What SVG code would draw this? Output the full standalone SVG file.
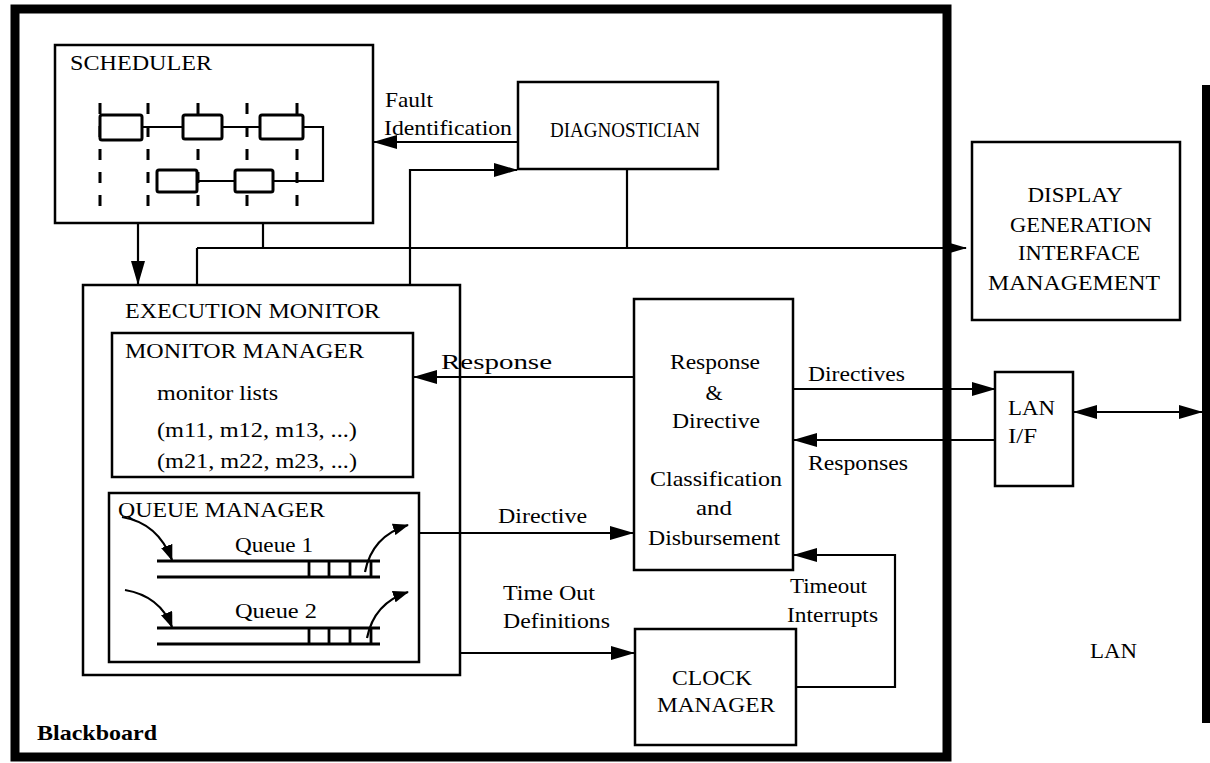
<svg xmlns="http://www.w3.org/2000/svg" width="1210" height="763" viewBox="0 0 1210 763">
<style>
text{font-family:'Liberation Serif','Times New Roman','DejaVu Serif',serif;font-size:22px;fill:#000}
.sm{font-size:21px}
.box{fill:#fff;stroke:#000;stroke-width:2.5}
.ln{fill:none;stroke:#000;stroke-width:2.2}
.q{fill:none;stroke:#000;stroke-width:2.8}
.mid{text-anchor:middle}
</style>
<defs>
<marker id="ah" markerUnits="userSpaceOnUse" markerWidth="24" markerHeight="14" refX="23" refY="7" orient="auto-start-reverse">
<path d="M0,0 L24,7 L0,14 z" fill="#000"/>
</marker>
<marker id="ahs" markerUnits="userSpaceOnUse" markerWidth="16" markerHeight="12" refX="15" refY="6" orient="auto">
<path d="M0,0 L16,6 L0,12 z" fill="#000"/>
</marker>
</defs>
<rect width="1210" height="763" fill="#fff"/>

<g id="blackboard">
<rect x="15" y="9" width="932" height="748" fill="none" stroke="#000" stroke-width="9"/>
<text x="37" y="740" font-weight="bold" textLength="120" lengthAdjust="spacingAndGlyphs">Blackboard</text>
</g>

<g id="lan-bus">
<rect x="1202" y="85" width="8" height="638" fill="#000"/>
<text x="1090" y="658" textLength="47" lengthAdjust="spacingAndGlyphs">LAN</text>
</g>

<g id="scheduler">
<rect class="box" x="55" y="45" width="318" height="178" stroke-width="3"/>
<text x="70" y="70" textLength="142" lengthAdjust="spacingAndGlyphs">SCHEDULER</text>
<g stroke="#000" stroke-width="3" stroke-dasharray="11 12" fill="none">
<line x1="100" y1="103" x2="100" y2="209"/>
<line x1="148" y1="103" x2="148" y2="209"/>
<line x1="198" y1="103" x2="198" y2="209"/>
<line x1="247" y1="103" x2="247" y2="209"/>
<line x1="297" y1="103" x2="297" y2="209"/>
</g>
<g fill="#fff" stroke="#000" stroke-width="3">
<rect x="100" y="115" width="42" height="25" rx="2"/>
<rect x="183" y="115" width="39" height="24" rx="2"/>
<rect x="260" y="115" width="43" height="24" rx="2"/>
<rect x="157" y="170" width="40" height="22" rx="2"/>
<rect x="235" y="170" width="38" height="22" rx="2"/>
</g>
<path class="ln" stroke-width="2.6" d="M142,127 H183 M222,127 H260 M303,127 H323 V181 H273 M197,181 H235"/>
</g>

<g id="diagnostician">
<rect class="box" x="518" y="82" width="200" height="87"/>
<text x="550" y="137" textLength="150" lengthAdjust="spacingAndGlyphs">DIAGNOSTICIAN</text>
</g>

<g id="display">
<rect class="box" x="972" y="142" width="208" height="178"/>
<text x="1075" y="202" class="mid" textLength="95" lengthAdjust="spacingAndGlyphs">DISPLAY</text>
<text x="1081" y="232" class="mid" textLength="142" lengthAdjust="spacingAndGlyphs">GENERATION</text>
<text x="1079" y="260" class="mid" textLength="122" lengthAdjust="spacingAndGlyphs">INTERFACE</text>
<text x="1074" y="290" class="mid" textLength="172" lengthAdjust="spacingAndGlyphs">MANAGEMENT</text>
</g>

<g id="execution-monitor">
<rect class="box" x="83" y="285" width="377" height="390"/>
<text x="125" y="318" textLength="255" lengthAdjust="spacingAndGlyphs">EXECUTION MONITOR</text>
</g>

<g id="monitor-manager">
<rect class="box" x="112" y="333" width="301" height="144" stroke-width="3"/>
<text x="125" y="358" textLength="239" lengthAdjust="spacingAndGlyphs">MONITOR MANAGER</text>
<text x="157" y="400" textLength="121" lengthAdjust="spacingAndGlyphs">monitor lists</text>
<text x="157" y="437" textLength="200" lengthAdjust="spacingAndGlyphs">(m11, m12, m13, ...)</text>
<text x="157" y="468" textLength="200" lengthAdjust="spacingAndGlyphs">(m21, m22, m23, ...)</text>
</g>

<g id="queue-manager">
<rect class="box" x="109" y="493" width="310" height="169" stroke-width="3"/>
<text x="118" y="517" textLength="207" lengthAdjust="spacingAndGlyphs">QUEUE MANAGER</text>
<text x="235" y="552" textLength="78" lengthAdjust="spacingAndGlyphs">Queue 1</text>
<text x="235" y="618" textLength="82" lengthAdjust="spacingAndGlyphs">Queue 2</text>
<path class="q" d="M157,561 H380 M157,577 H380 M309,561 V577 M329,561 V577 M350,561 V577 M371,561 V577"/>
<path class="q" d="M157,628 H380 M157,644 H380 M309,628 V644 M329,628 V644 M350,628 V644 M371,628 V644"/>
<path class="ln" stroke-width="2.8" d="M122,517 Q158,523 172,560" marker-end="url(#ahs)"/>
<path class="ln" stroke-width="2.8" d="M365,572 Q372,536 408,525" marker-end="url(#ahs)"/>
<path class="ln" stroke-width="2.8" d="M125,590 Q160,596 172,627" marker-end="url(#ahs)"/>
<path class="ln" stroke-width="2.8" d="M367,638 Q374,603 408,592" marker-end="url(#ahs)"/>
</g>

<g id="response-directive">
<rect class="box" x="634" y="299" width="159" height="271"/>
<text x="715" y="369" class="mid" textLength="90" lengthAdjust="spacingAndGlyphs">Response</text>
<text x="714" y="400" class="mid">&amp;</text>
<text x="716" y="428" class="mid" textLength="88" lengthAdjust="spacingAndGlyphs">Directive</text>
<text x="716" y="486" class="mid" textLength="132" lengthAdjust="spacingAndGlyphs">Classification</text>
<text x="714" y="515" class="mid" textLength="36" lengthAdjust="spacingAndGlyphs">and</text>
<text x="714" y="545" class="mid" textLength="132" lengthAdjust="spacingAndGlyphs">Disbursement</text>
</g>

<g id="clock-manager">
<rect class="box" x="635" y="629" width="161" height="116"/>
<text x="712" y="685" class="mid" textLength="80" lengthAdjust="spacingAndGlyphs">CLOCK</text>
<text x="716" y="712" class="mid" textLength="118" lengthAdjust="spacingAndGlyphs">MANAGER</text>
</g>

<g id="lan-if">
<rect class="box" x="995" y="372" width="78" height="114"/>
<text x="1008" y="415" textLength="47" lengthAdjust="spacingAndGlyphs">LAN</text>
<text x="1008" y="443" textLength="29" lengthAdjust="spacingAndGlyphs">I/F</text>
</g>

<g id="connectors">
<line class="ln" x1="518" y1="142" x2="374" y2="142" marker-end="url(#ah)"/>
<line class="ln" x1="138" y1="223" x2="138" y2="284" marker-end="url(#ah)"/>
<polyline class="ln" points="263,223 263,248"/>
<line class="ln" x1="197" y1="248" x2="966" y2="248" marker-end="url(#ah)"/>
<polyline class="ln" points="197,248 197,285"/>
<polyline class="ln" points="627,169 627,248"/>
<polyline class="ln" points="410,285 410,170 517,170" marker-end="url(#ah)"/>
<line class="ln" x1="634" y1="377" x2="414" y2="377" marker-end="url(#ah)"/>
<line class="ln" x1="419" y1="533" x2="633" y2="533" marker-end="url(#ah)"/>
<line class="ln" x1="460" y1="653" x2="634" y2="653" marker-end="url(#ah)"/>
<polyline class="ln" points="796,687 895,687 895,555 794,555" marker-end="url(#ah)"/>
<line class="ln" x1="793" y1="389" x2="995" y2="389" marker-end="url(#ah)"/>
<line class="ln" x1="995" y1="440" x2="794" y2="440" marker-end="url(#ah)"/>
<line class="ln" x1="1074" y1="412" x2="1202" y2="412" marker-start="url(#ah)" marker-end="url(#ah)"/>
<text x="385" y="107" class="sm" textLength="48" lengthAdjust="spacingAndGlyphs">Fault</text>
<text x="384" y="135" class="sm" textLength="128" lengthAdjust="spacingAndGlyphs">Identification</text>
<text x="441" y="369" class="sm" textLength="111" lengthAdjust="spacingAndGlyphs">Response</text>
<text x="498" y="523" class="sm" textLength="89" lengthAdjust="spacingAndGlyphs">Directive</text>
<text x="503" y="600" class="sm" textLength="92" lengthAdjust="spacingAndGlyphs">Time Out</text>
<text x="503" y="628" class="sm" textLength="107" lengthAdjust="spacingAndGlyphs">Definitions</text>
<text x="808" y="381" class="sm" textLength="97" lengthAdjust="spacingAndGlyphs">Directives</text>
<text x="808" y="470" class="sm" textLength="100" lengthAdjust="spacingAndGlyphs">Responses</text>
<text x="790" y="593" class="sm" textLength="77" lengthAdjust="spacingAndGlyphs">Timeout</text>
<text x="787" y="622" class="sm" textLength="91" lengthAdjust="spacingAndGlyphs">Interrupts</text>
</g>
</svg>
